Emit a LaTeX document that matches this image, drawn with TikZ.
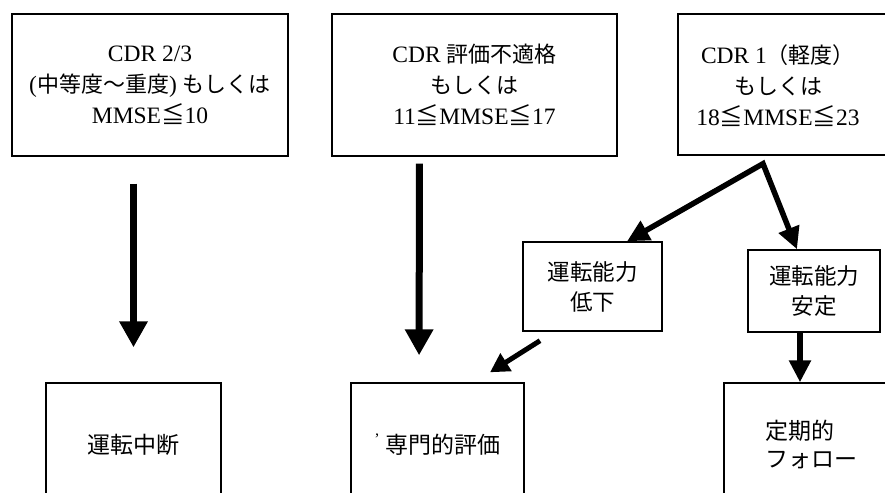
\documentclass[tikz,border=0pt]{standalone}
\usepackage{fontspec}
\setmainfont{Liberation Serif}
\newfontfamily\jp{Noto Sans CJK JP}
\usetikzlibrary{arrows.meta}
\begin{document}
\begin{tikzpicture}[x=1pt,y=-1pt,
  box/.style={draw, line width=1.4pt, inner sep=0pt, align=center},
  topfont/.style={font=\fontsize{23.5}{31}\selectfont},
  midfont/.style={font=\jp\fontsize{22.5}{30}\selectfont},
  botfont/.style={font=\jp\fontsize{23}{28}\selectfont},
  bigarrow/.style={line width=7pt, -{Triangle[length=26pt,width=27pt]}},
  midarrow/.style={line width=5.5pt, -{Triangle[length=22pt,width=21pt]}},
  smallarrow/.style={line width=5pt, -{Triangle[length=19pt,width=20pt]}}]
\useasboundingbox (0,0) rectangle (885,492);
\clip (0,0) rectangle (885,492);

% top row
\node[box, topfont, minimum width=276pt, minimum height=142pt] (b1) at (150,85)
  {CDR 2/3\\({\jp\fontsize{22}{31}\selectfont 中等度〜重度}) {\jp\fontsize{22}{31}\selectfont もしくは}\\MMSE{\jp ≦}10};
\node[box, topfont, minimum width=285pt, minimum height=142pt] (b2) at (474.5,85)
  {CDR {\jp\fontsize{22}{31}\selectfont 評価不適格}\\{\jp\fontsize{22}{31}\selectfont もしくは}\\11{\jp ≦}MMSE{\jp ≦}17};
\node[box, minimum width=214pt, minimum height=141pt] (b3) at (785,84.5) {};
\node[topfont, align=center, inner sep=0pt] (t3) at (778,86)
  {CDR 1{\jp\fontsize{22}{31}\selectfont （軽度）}\\{\jp\fontsize{22}{31}\selectfont もしくは}\\18{\jp ≦}MMSE{\jp ≦}23};

% middle row
\node[box, midfont, minimum width=139pt, minimum height=89pt] (ld) at (592.5,286.5)
  {運転能力\\低下};
\node[box, midfont, minimum width=132pt, minimum height=82pt] (rs) at (814,291)
  {運転能力\\安定};

% bottom row
\node[box, botfont, minimum width=175pt, minimum height=124pt] (r1) at (133.5,445)
  {運転中断};
\node[box, botfont, minimum width=173pt, minimum height=124pt] (r2) at (437.5,445)
  {\raisebox{9pt}{\rmfamily\fontsize{16}{16}\selectfont ’}\hspace{6pt}専門的評価};
\node[box, botfont, align=left, minimum width=175pt, minimum height=124pt] (r3) at (811.5,445)
  {定期的\\フォロー};

% connectors
\draw[bigarrow, shorten <=27pt, shorten >=35pt] (r1.north |- b1.south) -- (r1.north);
\draw[bigarrow, shorten <=7pt, shorten >=27pt] ([xshift=-55pt]b2.south) -- ([xshift=-18.5pt]r2.north);
\coordinate (sp) at ([xshift=-22pt,yshift=-8pt]b3.south);
\draw[line width=5.5pt, line join=miter, {Triangle[length=22pt,width=21pt]}-{Triangle[length=22pt,width=21pt]}]
  ([xshift=34.5pt]ld.north) -- (sp) -- ([xshift=-17pt]rs.north);
\draw[midarrow] ([xshift=-14pt]rs.south) -- ([xshift=-11.5pt]r3.north);
\draw[smallarrow] ([xshift=-52.5pt,yshift=-9pt]ld.south) -- ([xshift=52.5pt,yshift=10pt]r2.north);
\end{tikzpicture}
\end{document}
